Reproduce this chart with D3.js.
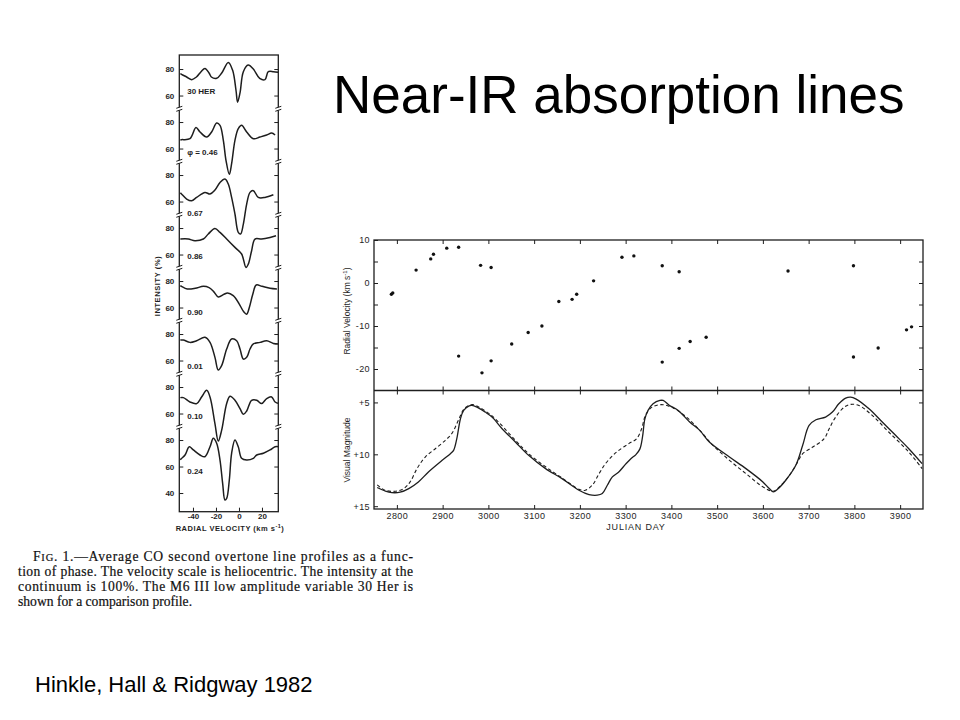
<!DOCTYPE html>
<html>
<head>
<meta charset="utf-8">
<script src="https://cdn.jsdelivr.net/npm/d3@7.9.0/dist/d3.min.js"></script>
<style>
  body { margin: 0; background: #fff; }
  svg { display: block; }
  .fig text { font-family: "Liberation Sans", Arial, sans-serif; fill: #1e1e1e; }
  .fig .tick line { stroke: #1e1e1e; stroke-width: 1; }
</style>
</head>
<body>
<svg id="slide" width="960" height="720"></svg>
<script>
// ---- line profiles, [velocity km/s, intensity %] ----
const profileNames = ['30 HER', '\u03c6 = 0.46', '0.67', '0.86', '0.90', '0.01', '0.10', '0.24'];

const her30 = [[-51,76.5],[-50,76],[-45.5,74],[-41,72],[-37,74],[-33,78],[-29.6,80.5],[-26,77],[-24,74],[-19.4,73],[-15,77],
  [-9.3,85],[-5.5,79],[-2.6,64],[-1.2,55],[0.9,62],[3.8,78],[8,83],[12.5,80],[18,73],[22.6,72],[25.5,78],[30,78],[34,77.5]];
const phase046 = [[-51,66.5],[-50,66.7],[-42.6,67.4],[-37.4,75.8],[-33.9,72.5],[-28.1,68.7],[-23.8,72.5],[-19.4,79.2],[-16.5,77.5],
  [-13.6,66.2],[-11.3,51.1],[-8.4,40.5],[-6.4,48.6],[-3.5,66.2],[-0.6,75],[2.3,77.5],[6.7,72.5],[12.5,67.4],[18.3,68.7],
  [24.1,70.2],[28.4,71.7],[31.4,70.2]];
const phase067 = [[-51,66.5],[-50,65.7],[-45.5,61.9],[-41.2,60.6],[-36.8,63.1],[-29.6,66.9],[-25.2,65.7],[-20.9,68.7],[-16.5,74.4],
  [-12.2,77],[-9.3,73.2],[-6.4,63.1],[-3.5,50.6],[-0.6,36.7],[1.4,35.5],[3.8,43],[6.7,58.1],[9.6,66.9],[12.5,68.2],
  [16.8,63.1],[22.6,63.1],[29.9,65.1]];
const phase086 = [[-51,71.7],[-44.1,71.7],[-38.3,70.4],[-31,71.7],[-26.7,75.5],[-20.9,79.7],[-16.5,76.7],[-10.7,71.7],[-3.5,65.4],
  [2.3,60.4],[6.1,50.3],[8.1,52.8],[11,62.9],[13.9,71.7],[19.7,71.7],[27,72.9],[32.2,74.2]];
const phase090 = [[-51,76.5],[-50,76],[-45,74],[-38,74.5],[-31,76],[-26,75],[-22,72],[-18,68],[-13,70],[-10,71],[-5,69],[0,63],
  [4,57],[6.7,55],[9,60],[12,70],[15,77],[20,76],[27,74.5],[33,74]];
const phase001 = [[-51,75.5],[-48.4,75.5],[-42.6,73.7],[-36.8,74.9],[-29.6,77.5],[-25.2,73.7],[-20.9,62.4],[-18,52.8],[-15.1,56.1],
  [-10.7,68.7],[-6.4,76.2],[-2,74.9],[0.9,68.7],[3.8,61.1],[6.7,62.4],[9.6,68.7],[12.5,72.5],[18.3,73.7],[24.1,74.9],
  [29.9,72.9],[35,72.5]];
const phase010 = [[-51,72],[-48.4,72],[-42.6,68.7],[-36.8,67.5],[-32.5,72.5],[-28.1,77.5],[-25.2,72.5],[-20.9,52.4],[-18,39.2],
  [-15.1,47.3],[-10.7,67.5],[-7.8,73],[-3.5,70],[0.9,63.7],[3.8,59.4],[6.7,61.9],[11,70],[15.4,70],[19.7,67.5],
  [24.1,71.3],[28.4,72.5],[31.4,68.7],[35,67.5]];
const phase024 = [[-51,65],[-50,66],[-46.9,68.7],[-43.2,74.9],[-39.7,72.5],[-33.9,68.7],[-29.6,67.4],[-25.2,74.9],[-22.3,81.3],
  [-19.4,77.5],[-16.5,64.9],[-14.2,47.3],[-12.2,34.7],[-10.7,35.9],[-8.4,49.8],[-6.4,70],[-3.5,80],[-0.6,74.9],[2.3,66.2],
  [6.7,64.9],[12.5,66.2],[15.4,68.7],[21.2,70],[27,72.5],[31.4,74.9],[35,74.9]];
const profiles = [her30, phase046, phase067, phase086, phase090, phase001, phase010, phase024];

const velTicks = [-40, -20, 0, 20];
const intensityTicks = [80, 60];
const lowestExtraTick = 40;

// ---- radial velocities, Julian day (-2440000) ----
const rvDays = [2788, 2791, 2842, 2874, 2880, 2909, 2935, 2935, 2983, 2986, 3006, 3006, 3051, 3087, 3117, 3154, 3183, 3193,
  3230, 3292, 3318, 3380, 3380, 3417, 3417, 3441, 3476, 3655, 3798, 3798, 3852, 3914, 3925];
const rvValues = [-2.6, -2.3, 3.0, 5.6, 6.7, 8.1, 8.3, -17.0, 4.1, -20.9, 3.6, -18.1, -14.2, -11.5, -10.0, -4.3, -3.8, -2.6,
  0.5, 6.0, 6.3, 4.0, -18.4, 2.6, -15.2, -13.6, -12.6, 2.8, 4.0, -17.2, -15.1, -10.9, -10.2];

// ---- visual light curves, [day, magnitude] ----
const visualSolid = [[2757,13.2],[2775,13.55],[2789,13.69],[2807,13.65],[2826,13.3],[2847,12.66],[2869,11.7],[2899,10.58],
  [2917,9.94],[2924,9.62],[2931,8.49],[2939,6.57],[2946,5.77],[2957,5.35],[2964,5.29],[2975,5.45],[2993,5.93],[3008,6.41],
  [3030,7.53],[3059,8.81],[3088,10.1],[3125,11.38],[3161,12.34],[3198,13.46],[3220,13.88],[3238,13.94],[3249,13.78],
  [3260,12.98],[3271,12.18],[3285,11.7],[3300,10.95],[3312,10.4],[3322,10.05],[3331,9.5],[3337,8.3],[3342,6.6],[3349,5.77],
  [3360,5.13],[3375,4.81],[3382,4.81],[3396,5.29],[3415,5.77],[3440,6.89],[3462,7.69],[3483,8.81],[3527,10.26],[3563,11.38],
  [3600,12.66],[3614,13.3],[3623,13.62],[3632,13.37],[3650,12.5],[3672,11.06],[3687,9.13],[3701,7.21],[3716,6.67],
  [3737,6.41],[3752,5.93],[3766,5.13],[3781,4.58],[3792,4.49],[3803,4.65],[3832,5.61],[3861,6.89],[3890,8.17],
  [3919,9.46],[3948,10.9]];
const visualDashed = [[2757,12.95],[2774,13.46],[2796,13.56],[2815,13.3],[2829,12.66],[2844,11.38],[2862,10.26],[2884,9.46],
  [2906,8.65],[2920,8.01],[2931,7.05],[2939,6.25],[2946,5.67],[2957,5.29],[2968,5.22],[2979,5.45],[2997,5.93],[3015,6.57],
  [3059,8.65],[3088,9.94],[3125,11.2],[3161,12.28],[3198,13.37],[3212,13.46],[3227,12.98],[3242,11.86],[3256,10.9],
  [3271,10.16],[3285,9.62],[3307,8.97],[3324,8.49],[3335,7.53],[3342,6.41],[3353,5.61],[3367,5.29],[3382,5.22],[3404,5.54],
  [3433,6.41],[3462,7.69],[3491,9.13],[3527,10.58],[3563,11.86],[3600,13.14],[3622,13.56],[3636,13.14],[3658,12.02],
  [3676,10.74],[3687,9.94],[3709,9.3],[3734,8.49],[3745,7.53],[3759,6.41],[3778,5.45],[3792,5.19],[3810,5.29],[3839,6.25],
  [3875,7.85],[3919,9.78],[3948,11.38]];

const dayTicks = [2800, 2900, 3000, 3100, 3200, 3300, 3400, 3500, 3600, 3700, 3800, 3900];
const rvTicks = [10, 5, 0, -5, -10, -15, -20];
const magTicks = [5, 10, 15];

const captionLines = [
  'Average CO second overtone line profiles as a func-',
  'tion of phase. The velocity scale is heliocentric. The intensity at the',
  'continuum is 100%. The M6 III low amplitude variable 30 Her is',
  'shown for a comparison profile.'
];

const ink = '#1e1e1e';
const svg = d3.select('#slide');
svg.append('rect').attr('width', 960).attr('height', 720).attr('fill', '#fff');

svg.append('text')
  .attr('x', 333).attr('y', 113)
  .attr('font-family', '"Liberation Sans", Arial, sans-serif')
  .attr('font-size', 53)
  .attr('fill', '#000')
  .text('Near-IR absorption lines');

// ================= left figure: stacked profiles =================
const left = svg.append('g').attr('class', 'fig');
const xVel = d3.scaleLinear().domain([-51.9, 34.2]).range([179.3, 278.3]);
const yInt = d3.scaleLinear().domain([25.9, 370.6]).range([511.7, 55]);
const nProf = profiles.length;
const offset = (i) => 40 * (nProf - 1 - i);

left.append('clipPath').attr('id', 'clipProf')
  .append('rect').attr('x', 179.3).attr('y', 55).attr('width', 99).attr('height', 456.7);

let ticks = [];
profiles.forEach((p, i) => {
  intensityTicks.forEach((t) => ticks.push({ v: t + offset(i), label: t }));
  if (i === nProf - 1) ticks.push({ v: lowestExtraTick + offset(i), label: lowestExtraTick });
});

let lAxis = left.append('g').attr('transform', 'translate(179.3,0)')
  .call(d3.axisLeft(yInt).tickValues(ticks.map((d) => d.v))
    .tickFormat((d, i) => ticks[i].label).tickSize(-4).tickPadding(5));
lAxis.select('.domain').remove();
lAxis.selectAll('text').attr('font-size', 8).attr('font-weight', 'bold');

let rAxis = left.append('g').attr('transform', 'translate(278.3,0)')
  .call(d3.axisRight(yInt).tickValues(ticks.map((d) => d.v)).tickFormat('').tickSize(-4));
rAxis.select('.domain').remove();

let bAxis = left.append('g').attr('transform', 'translate(0,511.7)')
  .call(d3.axisBottom(xVel).tickValues(velTicks).tickFormat((d) => String(d)).tickSize(-4).tickPadding(2));
bAxis.select('.domain').remove();
bAxis.selectAll('text').attr('font-size', 8).attr('font-weight', 'bold');

left.append('rect')
  .attr('x', 179.3).attr('y', 55).attr('width', 99).attr('height', 456.7)
  .attr('fill', 'none').attr('stroke', ink).attr('stroke-width', 1.3);

// axis breaks between panels
const breaks = d3.range(nProf - 1).map((i) => 50 + offset(i));
[179.3, 278.3].forEach((bx) => {
  breaks.forEach((b) => {
    const by = yInt(b);
    left.append('rect').attr('x', bx - 2).attr('y', by - 1.5).attr('width', 4).attr('height', 3).attr('fill', '#fff');
    [-1.5, 1.5].forEach((dy) => {
      left.append('line')
        .attr('x1', bx - 3).attr('y1', by + dy + 1).attr('x2', bx + 3).attr('y2', by + dy - 1)
        .attr('stroke', ink).attr('stroke-width', 1);
    });
  });
});

const profLine = d3.line().curve(d3.curveCatmullRom.alpha(0.5));
profiles.forEach((p, i) => {
  left.append('path')
    .attr('d', profLine(p.map((d) => [xVel(d[0]), yInt(d[1] + offset(i))])))
    .attr('fill', 'none').attr('stroke', ink).attr('stroke-width', 1.5)
    .attr('clip-path', 'url(#clipProf)');
});

const labelLevel = [62.5, 56.4, 50.8, 58.3, 55.8, 55.3, 57.1, 55.8];
profileNames.forEach((name, i) => {
  left.append('text')
    .attr('x', xVel(-45)).attr('y', yInt(labelLevel[i] + offset(i)))
    .attr('dominant-baseline', 'middle')
    .attr('font-size', 8).attr('font-weight', 'bold')
    .text(name);
});

left.append('text')
  .attr('transform', 'translate(160,286) rotate(-90)')
  .attr('text-anchor', 'middle').attr('font-size', 7.5).attr('font-weight', 'bold')
  .attr('letter-spacing', 0.6)
  .text('INTENSITY  (%)');

let velLabel = left.append('text')
  .attr('x', 230).attr('y', 531).attr('text-anchor', 'middle')
  .attr('font-size', 7.5).attr('font-weight', 'bold').attr('letter-spacing', 0.5);
velLabel.append('tspan').text('RADIAL VELOCITY  (km s');
velLabel.append('tspan').attr('dy', -3).attr('font-size', 5.5).text('-1');
velLabel.append('tspan').attr('dy', 3).text(')');

// ================= right figure: RV and light curve =================
const right = svg.append('g').attr('class', 'fig');
const xDay = d3.scaleLinear().domain([2750, 3950]).range([374, 923]);
const yRV = d3.scaleLinear().domain([-25, 10]).range([390.5, 240]);
const yMag = d3.scaleLinear().domain([3.85, 15.27]).range([390.5, 509]);

function cleanAxis(g) {
  g.select('.domain').remove();
  g.selectAll('text').attr('font-size', 9).attr('letter-spacing', 0.4);
  return g;
}

cleanAxis(right.append('g').attr('transform', 'translate(0,240)')
  .call(d3.axisTop(xDay).tickValues(dayTicks).tickFormat('').tickSize(-4)));
cleanAxis(right.append('g').attr('transform', 'translate(0,390.5)')
  .call(d3.axisTop(xDay).tickValues(dayTicks).tickFormat('').tickSize(4)));
cleanAxis(right.append('g').attr('transform', 'translate(0,390.5)')
  .call(d3.axisBottom(xDay).tickValues(dayTicks).tickFormat('').tickSize(4)));
cleanAxis(right.append('g').attr('transform', 'translate(0,509)')
  .call(d3.axisBottom(xDay).tickValues(dayTicks).tickFormat((d) => String(d)).tickSize(-4).tickPadding(4)));

cleanAxis(right.append('g').attr('transform', 'translate(374,0)')
  .call(d3.axisLeft(yRV).tickValues(rvTicks).tickFormat((d) => (d % 10 === 0 ? String(d) : '')).tickSize(-4).tickPadding(4)));
cleanAxis(right.append('g').attr('transform', 'translate(923,0)')
  .call(d3.axisRight(yRV).tickValues(rvTicks.slice(1)).tickFormat('').tickSize(-4)));
cleanAxis(right.append('g').attr('transform', 'translate(374,0)')
  .call(d3.axisLeft(yMag).tickValues(magTicks).tickFormat((d) => '+' + d).tickSize(-4).tickPadding(4)));
cleanAxis(right.append('g').attr('transform', 'translate(923,0)')
  .call(d3.axisRight(yMag).tickValues(magTicks.slice(0, 2)).tickFormat('').tickSize(-4)));

right.append('rect')
  .attr('x', 374).attr('y', 240).attr('width', 549).attr('height', 269)
  .attr('fill', 'none').attr('stroke', ink).attr('stroke-width', 1.3);
right.append('line')
  .attr('x1', 374).attr('x2', 923).attr('y1', 390.5).attr('y2', 390.5)
  .attr('stroke', ink).attr('stroke-width', 1.3);

right.selectAll('circle.rv')
  .data(rvDays)
  .join('circle')
  .attr('class', 'rv')
  .attr('cx', (d) => xDay(d))
  .attr('cy', (d, i) => yRV(rvValues[i]))
  .attr('r', 1.7)
  .attr('fill', '#111');

const magLine = d3.line()
  .x((d) => xDay(d[0]))
  .y((d) => yMag(d[1]))
  .curve(d3.curveCatmullRom.alpha(0.5));

right.append('path').attr('d', magLine(visualSolid))
  .attr('fill', 'none').attr('stroke', ink).attr('stroke-width', 1.3);
right.append('path').attr('d', magLine(visualDashed))
  .attr('fill', 'none').attr('stroke', ink).attr('stroke-width', 1.1)
  .attr('stroke-dasharray', '3.5,2.5');

let rvLabel = right.append('text')
  .attr('transform', 'translate(350,311) rotate(-90)')
  .attr('text-anchor', 'middle').attr('font-size', 8.5);
rvLabel.append('tspan').text('Radial Velocity  (km s');
rvLabel.append('tspan').attr('dy', -3).attr('font-size', 6).text('-1');
rvLabel.append('tspan').attr('dy', 3).text(')');

right.append('text')
  .attr('transform', 'translate(350,450) rotate(-90)')
  .attr('text-anchor', 'middle').attr('font-size', 8.5)
  .text('Visual Magnitude');

right.append('text')
  .attr('x', 636).attr('y', 530).attr('text-anchor', 'middle')
  .attr('font-size', 9).attr('letter-spacing', 0.8)
  .text('JULIAN  DAY');

// ================= caption =================
const cap = svg.append('g')
  .attr('font-family', '"Liberation Serif", "Times New Roman", serif')
  .attr('font-size', 13.6)
  .attr('fill', '#111')
  .attr('stroke', '#111')
  .attr('stroke-width', 0.2);

let first = cap.append('text').attr('x', 33).attr('y', 561)
  .attr('textLength', 380).attr('lengthAdjust', 'spacing');
first.append('tspan').text('F');
first.append('tspan').attr('font-size', 10.5).text('IG');
first.append('tspan').text('. 1.\u2014' + captionLines[0]);

captionLines.slice(1).forEach((line, i) => {
  const t = cap.append('text').attr('x', 18).attr('y', 576 + i * 15).text(line);
  if (i < 2) t.attr('textLength', 395).attr('lengthAdjust', 'spacing');
});

svg.append('text')
  .attr('x', 35).attr('y', 692)
  .attr('font-family', '"Liberation Sans", Arial, sans-serif')
  .attr('font-size', 22)
  .attr('fill', '#000')
  .text('Hinkle, Hall & Ridgway 1982');
</script>
</body>
</html>
